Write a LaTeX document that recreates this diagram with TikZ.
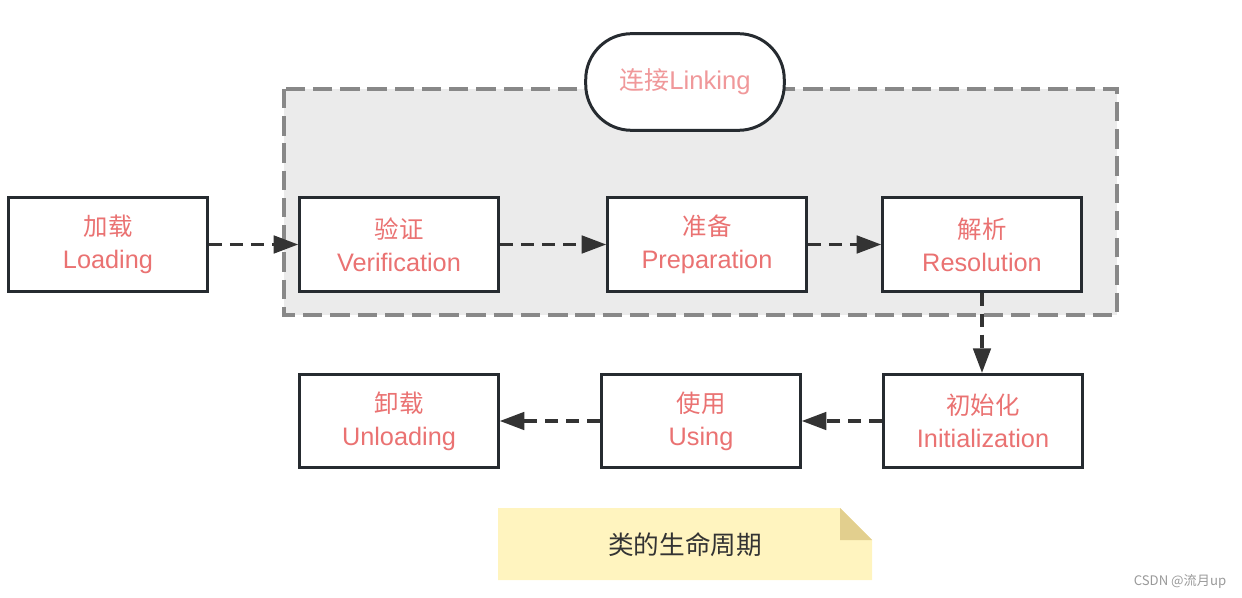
\documentclass[tikz,border=0pt]{standalone}
\usepackage{fontspec}
\setmainfont{Liberation Sans}
\newfontfamily\cjk{Noto Sans CJK SC}
\usetikzlibrary{arrows.meta}

\definecolor{boxline}{HTML}{262B30}
\definecolor{stagetext}{HTML}{EA7272}
\definecolor{linktext}{HTML}{F0989A}
\definecolor{groupfill}{HTML}{EBEBEB}
\definecolor{groupline}{HTML}{888888}
\definecolor{notefill}{HTML}{FFF4BF}
\definecolor{notefold}{HTML}{E2CF8E}
\definecolor{arrowline}{HTML}{333333}

\newcommand{\stagelabel}[2]{{\cjk\fontsize{13.9}{18.7}\selectfont #1}\\#2}

\tikzset{
  stage/.style={draw=boxline, line width=1.7pt, fill=white, minimum width=113pt,
    minimum height=53pt, align=center, text=stagetext, font=\fontsize{14.4}{18.7}\selectfont},
  flow/.style={draw=arrowline, line width=1.8pt, dash pattern=on 7.5pt off 4.5pt,
    -{Triangle[length=14pt,width=10pt]}},
}

\begin{document}
\begin{tikzpicture}[x=0.02cm, y=-0.02cm]
            \useasboundingbox (0,0) rectangle (1242,598);

            % Linking group
            \draw[fill=groupfill, draw=groupline, line width=2.3pt, dash pattern=on 11pt off 4.5pt]
                (284,89) rectangle (1117,315);
            \node[draw=boxline, line width=1.7pt, fill=white, rounded corners=26pt,
                minimum width=113pt, minimum height=55pt, text=linktext] (link) at (685,82)
                {\raisebox{-1pt}{{\cjk\fontsize{14.2}{17}\selectfont 连接}{\fontsize{14.6}{17}\selectfont Linking}}};

            % Top row
            \node[stage] (load) at (108,244.5) {\stagelabel{加载}{Loading}};
            \node[stage] (verify) at (399,244.5) {\stagelabel{验证}{Verification}};
            \node[stage] (prepare) at (707,244.5) {\stagelabel{准备}{Preparation}};
            \node[stage] (resolve) at (982,244.5) {\stagelabel{解析}{Resolution}};

            % Bottom row
            \node[stage] (init) at (983,421) {\stagelabel{初始化}{Initialization}};
            \node[stage] (use) at (701,421) {\stagelabel{使用}{Using}};
            \node[stage] (unload) at (399,421) {\stagelabel{卸载}{Unloading}};

            % Flow
            \draw[flow] (load) -- (verify);
            \draw[flow] (verify) -- (prepare);
            \draw[flow] (prepare) -- (resolve);
            \draw[flow] (resolve.south) -- (resolve.south |- init.north);
            \draw[flow] (init) -- (use);
            \draw[flow] (use) -- (unload);

            % Note
            \fill[notefill] (498,508) -- (840,508) -- (872,540) -- (872,580) -- (498,580) -- cycle;
            \fill[notefold] (840,508) -- (872,540) -- (840,540) -- cycle;
            \node[text=arrowline, font=\cjk\fontsize{14.6}{17}\selectfont] (title) at (685,545) {类的生命周期};

            \node[text=gray!80, font=\cjk\fontsize{7.5}{9}\selectfont] (mark) at (1180,581) {CSDN @流月up};
\end{tikzpicture}
\end{document}
